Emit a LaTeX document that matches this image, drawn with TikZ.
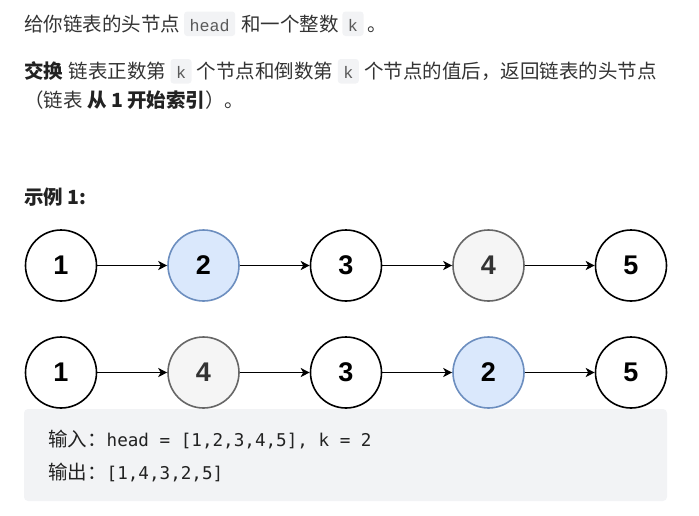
\documentclass[tikz,border=0pt]{standalone}
\usepackage{fontspec}
\setmainfont{Noto Sans CJK SC}
\newfontfamily\cjkf{Noto Sans CJK SC}
\newfontfamily\numf{Liberation Sans}
\newfontfamily\icodef{Liberation Mono}
\newfontfamily\bcodef{DejaVu Sans Mono}
\usetikzlibrary{arrows.meta}
\definecolor{txtc}{HTML}{333333}
\definecolor{boldc}{HTML}{222222}
\definecolor{codebg}{HTML}{F2F3F5}
\definecolor{icodec}{HTML}{5A5A5A}
\definecolor{bluefill}{HTML}{DAE8FC}
\definecolor{blueline}{HTML}{6C8EBF}
\definecolor{greyfill}{HTML}{F5F5F5}
\definecolor{greyline}{HTML}{666666}
\definecolor{greytext}{HTML}{333333}
\begin{document}
\begin{tikzpicture}[x=1pt,y=-1pt,
  txt/.style={anchor=base west, inner sep=0pt, font=\cjkf\fontsize{19.5}{24}\selectfont, text=txtc},
  txtb/.style={anchor=base west, inner sep=0pt, font=\cjkf\bfseries\fontsize{19.5}{24}\selectfont, text=boldc},
  icode/.style={anchor=base west, inner xsep=5.5pt, inner ysep=0pt, text height=19.5pt, text depth=5pt, fill=codebg, rounded corners=3pt, font=\icodef\fontsize{16.7}{20}\selectfont, text=icodec},
  codeline/.style={anchor=base west, inner sep=0pt, font=\bcodef\fontsize{17.6}{20}\selectfont, text=boldc},
  ll/.style={circle, draw=black, line width=1.6pt, minimum size=71pt, inner sep=0pt, fill=white, font=\numf\bfseries\fontsize{27}{27}\selectfont, text=black},
  llblue/.style={ll, draw=blueline, fill=bluefill},
  llgrey/.style={ll, draw=greyline, fill=greyfill, text=greytext},
  arr/.style={-{Stealth[length=9pt,width=9pt,inset=2.5pt]}, line width=1.5pt, draw=black},
  codebox/.style={fill=codebg, rounded corners=4pt, minimum width=643pt, minimum height=92pt, inner sep=0pt}
]
\useasboundingbox (0,0) rectangle (699,515);

% paragraph 1
\node[txt] (l1a) at (24,31) {给你链表的头节点};
\node[icode, xshift=3.5pt] (l1b) at (l1a.base east) {head};
\node[txt, xshift=5.5pt] (l1c) at (l1b.base east) {和一个整数};
\node[icode, xshift=3.5pt] (l1d) at (l1c.base east) {k};
\node[txt, xshift=4pt] (l1e) at (l1d.base east) {。};

% paragraph 2
\node[txtb] (l2a) at (24,78.5) {交换};
\node[txt, xshift=5pt] (l2b) at (l2a.base east) {链表正数第};
\node[icode, xshift=4pt] (l2c) at (l2b.base east) {k};
\node[txt, xshift=5pt] (l2d) at (l2c.base east) {个节点和倒数第};
\node[icode, xshift=4pt] (l2e) at (l2d.base east) {k};
\node[txt, xshift=5pt] (l2f) at (l2e.base east) {个节点的值后，返回链表的头节点};
\node[txt] (l3) at (24,107.5) {（链表 {\bfseries\color{boldc}从 1 开始索引}）。};

% example title
\node[txtb] (ex) at (24,204) {示例 1:};

% row 1
\node[ll] (a1) at (61,265.5) {1};
\node[llblue] (a2) at (203.5,265.5) {2};
\node[ll] (a3) at (346,265.5) {3};
\node[llgrey] (a4) at (488.5,265.5) {4};
\node[ll] (a5) at (631,265.5) {5};
\draw[arr] (a1) -- (a2);
\draw[arr] (a2) -- (a3);
\draw[arr] (a3) -- (a4);
\draw[arr] (a4) -- (a5);

% row 2
\node[ll] (b1) at (61,372.5) {1};
\node[llgrey] (b2) at (203.5,372.5) {4};
\node[ll] (b3) at (346,372.5) {3};
\node[llblue] (b4) at (488.5,372.5) {2};
\node[ll] (b5) at (631,372.5) {5};
\draw[arr] (b1) -- (b2);
\draw[arr] (b2) -- (b3);
\draw[arr] (b3) -- (b4);
\draw[arr] (b4) -- (b5);

% code block
\node[codebox] (box) at (345.5,455) {};
\node[codeline] (o1) at (48,446) {{\cjkf\fontsize{19.5}{20}\selectfont 输入：}head = [1,2,3,4,5], k = 2};
\node[codeline] (o2) at (48,479) {{\cjkf\fontsize{19.5}{20}\selectfont 输出：}[1,4,3,2,5]};
\end{tikzpicture}
\end{document}
